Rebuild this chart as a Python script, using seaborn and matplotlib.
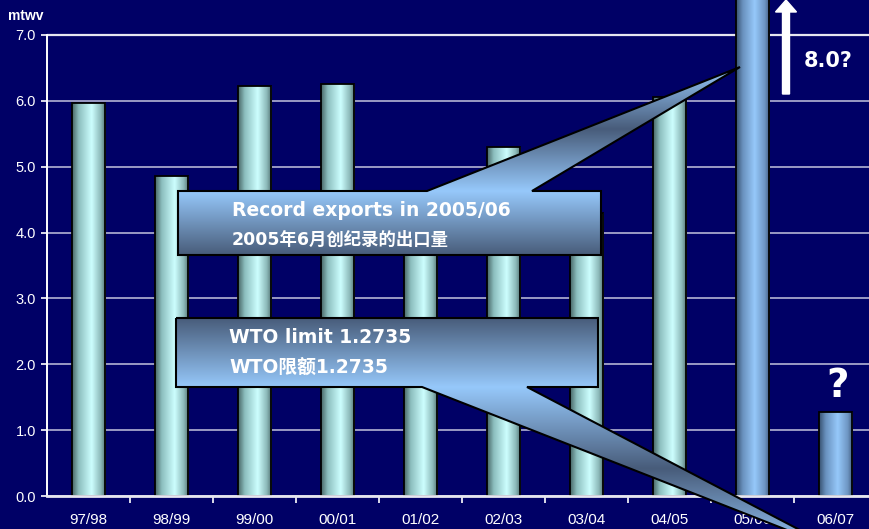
import numpy as np
import pandas as pd
import matplotlib
matplotlib.use("Agg")
import matplotlib.pyplot as plt
from matplotlib.patches import Polygon, FancyArrow
import seaborn as sns

# data
seasons = ["97/98", "98/99", "99/00", "00/01", "01/02", "02/03", "03/04", "04/05", "05/06", "06/07"]
exports = [5.97, 4.86, 6.23, 6.26, 4.4, 5.30, 4.3, 6.06, 8.0, 1.2735]
kind = ["actual"] * 8 + ["forecast"] * 2
y_ticks = [0, 1, 2, 3, 4, 5, 6, 7]

NAVY = "#000066"
W, H = 869, 529

df = pd.DataFrame({"season": seasons, "exports": exports, "kind": kind})

plt.rcParams["font.family"] = ["Liberation Sans", "DejaVu Sans"]
fig = plt.figure(figsize=(W / 100, H / 100), dpi=100, facecolor=NAVY)
ax = fig.add_axes([47 / W, 33 / H, 830 / W, 7.6 * 65.86 / H])
ax.set_facecolor(NAVY)

sns.barplot(data=df, x="season", y="exports", width=0.4, color="#ccffff",
            edgecolor="black", linewidth=1.3, ax=ax, zorder=3)


def ramp(stops, n=256):
    pos = [p for p, _ in stops]
    cols = np.array([c for _, c in stops], dtype=float) / 255
    t = np.linspace(0, 1, n)
    return np.stack([np.interp(t, pos, cols[:, i]) for i in range(3)], axis=-1)


cyan_ramp = ramp([(0, (70, 100, 100)), (0.2, (140, 190, 190)), (0.58, (205, 255, 255)),
                  (0.85, (140, 185, 185)), (1, (80, 112, 112))])
blue_ramp = ramp([(0, (55, 80, 110)), (0.2, (105, 145, 190)), (0.55, (150, 200, 250)),
                  (0.85, (110, 150, 195)), (1, (65, 90, 125))])

for patch, k in zip(ax.patches, kind):
    x0, y0 = patch.get_x(), patch.get_y()
    x1, y1 = x0 + patch.get_width(), y0 + patch.get_height()
    img = (cyan_ramp if k == "actual" else blue_ramp)[np.newaxis, :, :]
    im = ax.imshow(img, extent=(x0, x1, y0, y1), aspect="auto", zorder=2.9,
                   interpolation="bilinear")
    im.set_clip_path(patch)
    patch.set_facecolor("none")

ax.set_xlim(-0.5, 9.5)
ax.set_ylim(0, 7.6)
ax.set_yticks(y_ticks)
ax.set_yticklabels([f"{v:.1f}" for v in y_ticks])
ax.set_xticks(range(len(seasons)))
ax.set_xticklabels(seasons)
ax.set_xticks(np.arange(0.5, 9.5, 1), minor=True)
ax.set_xlabel("")
ax.set_ylabel("")

ax.yaxis.grid(True, color="#9a9ac4", lw=1.4)
ax.set_axisbelow(True)
ax.axhline(7, color="#e6e6f0", lw=1.6, zorder=1)
for s in ["top", "right"]:
    ax.spines[s].set_visible(False)
ax.spines["left"].set_bounds(0, 7)
ax.spines["left"].set_color("white")
ax.spines["left"].set_linewidth(1.4)
ax.spines["bottom"].set_color("#e6e6f0")
ax.spines["bottom"].set_linewidth(2)
ax.spines["bottom"].set_zorder(4)
ax.tick_params(axis="y", colors="white", labelsize=10.5, length=4, width=1.2, pad=4)
ax.tick_params(axis="x", which="major", colors="white", labelsize=11, length=0, pad=12)
ax.tick_params(axis="x", which="minor", colors="white", length=5, width=1.2)

# overlay in pixel coordinates for callouts and notes
ov = fig.add_axes([0, 0, 1, 1], zorder=10)
ov.set_xlim(0, W)
ov.set_ylim(H, 0)
ov.axis("off")
ov.patch.set_alpha(0)

LIGHT = (150, 200, 250)
DARK = (72, 92, 122)


def fill_grad(pts, stops, ytop, ybot):
    poly = Polygon(pts, closed=True, transform=ov.transData, facecolor="none", edgecolor="none")
    ov.add_patch(poly)
    xs = [p[0] for p in pts]
    col = ramp(stops)[:, np.newaxis, :]
    im = ov.imshow(col, extent=(min(xs), max(xs), ybot, ytop), aspect="auto",
                   origin="upper", zorder=5, interpolation="bilinear")
    im.set_clip_path(poly)


def callout(box, base, tip, box_stops, tri_stops, tri_range, top_side=True):
    bx0, by0, bx1, by1 = box
    edge_y = by0 if top_side else by1
    tri = [(base[0], edge_y), tip, (base[1], edge_y)]
    fill_grad(tri, tri_stops, *tri_range)
    rect = [(bx0, by0), (bx1, by0), (bx1, by1), (bx0, by1)]
    fill_grad(rect, box_stops, by0, by1)
    if top_side:
        outline = [(bx0, by0), (base[0], by0), tip, (base[1], by0), (bx1, by0), (bx1, by1), (bx0, by1)]
    else:
        outline = [(bx0, by0), (bx1, by0), (bx1, by1), (base[1], by1), tip, (base[0], by1), (bx0, by1)]
    ov.add_patch(Polygon(outline, closed=True, facecolor="none", edgecolor="black",
                         lw=1.5, zorder=6))


callout((178, 191, 601, 255), (427, 532), (740, 67),
        [(0, LIGHT), (1, DARK)],
        [(0, LIGHT), (0.5, DARK), (1, LIGHT)], (67, 191), top_side=True)
callout((176, 318, 598, 387), (422, 527), (838, 550),
        [(0, DARK), (1, LIGHT)],
        [(0, LIGHT), (0.5, DARK), (1, LIGHT)], (387, 550), top_side=False)

txt = dict(color="white", va="baseline", ha="left", zorder=8, fontweight="bold",
           family=["DejaVu Sans", "Noto Sans CJK SC"])
ov.text(232, 216, "Record exports in 2005/06", fontsize=13.5, **txt)
ov.text(232, 245, "2005年6月创纪录的出口量", fontsize=12.5, **txt)
ov.text(229, 343, "WTO limit 1.2735", fontsize=13.5, **txt)
ov.text(229, 374, "WTO限额1.2735", fontsize=13.5, **txt)

ov.add_patch(FancyArrow(786, 94, 0, -94, width=7, head_width=21, head_length=12,
                        length_includes_head=True, color="white", zorder=8))
ov.text(804, 67, "8.0?", color="white", fontsize=15, fontweight="bold",
        family="DejaVu Sans", va="baseline", zorder=8)
ov.text(838, 397, "?", color="white", fontsize=28, fontweight="bold",
        family="DejaVu Sans", va="baseline", ha="center", zorder=8)
ov.text(8, 20, "mtwv", color="white", fontsize=10, fontweight="bold", va="baseline", zorder=8)

fig.savefig("out.png", dpi=100, facecolor=NAVY)
